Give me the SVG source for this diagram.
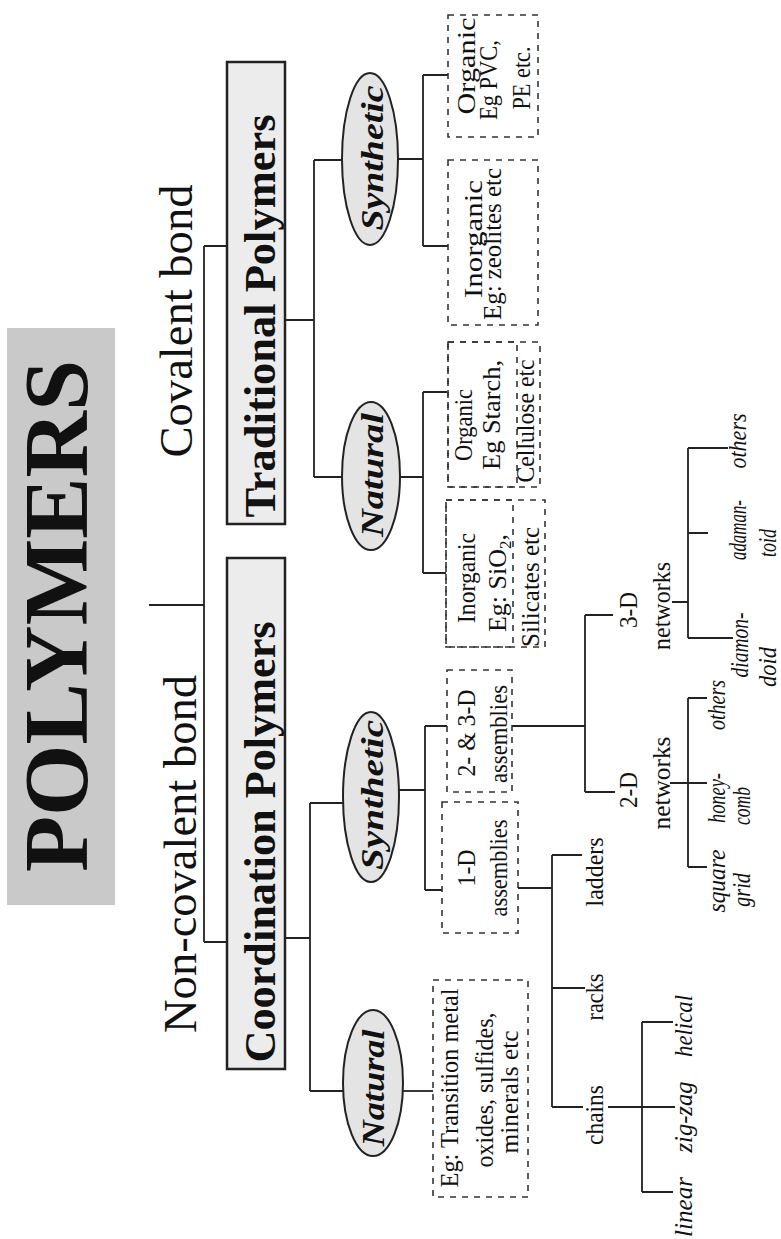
<svg xmlns="http://www.w3.org/2000/svg" width="781" height="1239" viewBox="0 0 781 1239">
<style>
.t{font-family:"Liberation Serif","Times New Roman",serif;fill:#111;text-anchor:middle}
.title{font-size:90px;font-weight:bold}
.big{font-size:47px}
.hdr{font-size:44px;font-weight:bold}
.ell{font-size:32px;font-weight:bold;font-style:italic}
.sm{font-size:26px}
.it{font-size:25px;font-style:italic}
.ln{stroke:#222;stroke-width:1.8;fill:none}
.dash{stroke:#333;stroke-width:1.6;fill:none;stroke-dasharray:6 6}
.hbox{fill:#ececec;stroke:#222;stroke-width:2.5}
.oval{fill:#e4e4e4;stroke:#222;stroke-width:2}
</style>
<rect width="781" height="1239" fill="#fff"/>

<g id="title">
<rect x="7" y="328" width="108" height="577" fill="#c9c9c9"/>
<text class="t title" transform="translate(87,616) rotate(-90)" textLength="512" lengthAdjust="spacingAndGlyphs">POLYMERS</text>
</g>
<g id="covalent"><text class="t big" transform="translate(192,321) rotate(-90)" textLength="273" lengthAdjust="spacingAndGlyphs">Covalent bond</text></g>
<g id="noncovalent"><text class="t big" transform="translate(196,854) rotate(-90)" textLength="358" lengthAdjust="spacingAndGlyphs">Non-covalent bond</text></g>

<g id="connectors">
<path class="ln" d="M149,605H204M204,246V942M204,246H227M204,942H227"/>
<path class="ln" d="M285,320H314M314,160V477M314,160H342M314,477H342"/>
<path class="ln" d="M398,159H423M423,75V246M423,75H448M423,246H448"/>
<path class="ln" d="M400,477H423M423,392V573M423,392H447M423,573H446"/>
<path class="ln" d="M285,938H310M310,803V1091M310,803H343M310,1091H343"/>
<path class="ln" d="M399,790H425M425,726V890M425,726H447M425,890H442"/>
<path class="ln" d="M403,1091H433"/>
<path class="ln" d="M518,888H552M552,855V1107M552,855H582M552,988H585M552,1107H583"/>
<path class="ln" d="M512,726H585M585,615V792M585,615H613M585,792H615"/>
<path class="ln" d="M608,1107H675M642,1022V1192M642,1022H673M642,1192H673"/>
<path class="ln" d="M670,783H707M688,698V867M688,698H707M688,867H707"/>
<path class="ln" d="M672,602H688M688,448V638M688,448H728M688,533H708M688,638H733"/>
</g>

<g id="traditional">
<rect class="hbox" x="227" y="62" width="58" height="462"/>
<text class="t hdr" transform="translate(275,316) rotate(-90)" textLength="403" lengthAdjust="spacingAndGlyphs">Traditional Polymers</text>
</g>
<g id="coordination">
<rect class="hbox" x="227" y="558" width="58" height="511"/>
<text class="t hdr" transform="translate(275,842) rotate(-90)" textLength="441" lengthAdjust="spacingAndGlyphs">Coordination Polymers</text>
</g>

<g id="trad-synthetic">
<ellipse class="oval" cx="370" cy="159" rx="28" ry="86"/>
<text class="t ell" transform="translate(383,158) rotate(-90)" textLength="145" lengthAdjust="spacingAndGlyphs">Synthetic</text>
</g>
<g id="trad-natural">
<ellipse class="oval" cx="371" cy="476" rx="29" ry="74"/>
<text class="t ell" transform="translate(383,475) rotate(-90)" textLength="124" lengthAdjust="spacingAndGlyphs">Natural</text>
</g>
<g id="coord-synthetic">
<ellipse class="oval" cx="371" cy="797" rx="28" ry="85"/>
<text class="t ell" transform="translate(383,795) rotate(-90)" textLength="150" lengthAdjust="spacingAndGlyphs">Synthetic</text>
</g>
<g id="coord-natural">
<ellipse class="oval" cx="373" cy="1083" rx="30" ry="73"/>
<text class="t ell" transform="translate(384,1088) rotate(-90)" textLength="117" lengthAdjust="spacingAndGlyphs">Natural</text>
</g>

<g id="trad-syn-organic">
<rect class="dash" x="448" y="15" width="90" height="122"/>
<text class="t sm" transform="translate(475,66) rotate(-90)" textLength="97" lengthAdjust="spacingAndGlyphs">Organic</text>
<text class="t sm" transform="translate(497,80) rotate(-90)" textLength="80" lengthAdjust="spacingAndGlyphs">Eg PVC,</text>
<text class="t sm" transform="translate(530,78) rotate(-90)" textLength="63" lengthAdjust="spacingAndGlyphs">PE etc.</text>
</g>
<g id="trad-syn-inorganic">
<rect class="dash" x="448" y="160" width="90" height="165"/>
<text class="t sm" transform="translate(482,239) rotate(-90)" textLength="118" lengthAdjust="spacingAndGlyphs">Inorganic</text>
<text class="t sm" transform="translate(501,244) rotate(-90)" textLength="152" lengthAdjust="spacingAndGlyphs">Eg: zeolites etc</text>
</g>
<g id="trad-nat-organic">
<rect class="dash" x="448" y="342" width="92" height="145"/>
<rect class="dash" x="448" y="342" width="69" height="145"/>
<text class="t sm" transform="translate(472,425) rotate(-90)" textLength="72" lengthAdjust="spacingAndGlyphs">Organic</text>
<text class="t sm" transform="translate(500,415) rotate(-90)" textLength="110" lengthAdjust="spacingAndGlyphs">Eg Starch,</text>
<text class="t sm" transform="translate(534,421) rotate(-90)" textLength="123" lengthAdjust="spacingAndGlyphs">Cellulose etc</text>
</g>
<g id="trad-nat-inorganic">
<rect class="dash" x="446" y="500" width="99" height="147"/>
<rect class="dash" x="446" y="500" width="67" height="147"/>
<text class="t sm" transform="translate(475,578) rotate(-90)" textLength="90" lengthAdjust="spacingAndGlyphs">Inorganic</text>
<text class="t sm" transform="translate(506,583) rotate(-90)">Eg: SiO<tspan font-size="17" dy="5">2</tspan><tspan dy="-5">,</tspan></text>
<text class="t sm" transform="translate(539,587) rotate(-90)" textLength="120" lengthAdjust="spacingAndGlyphs">Silicates etc</text>
</g>

<g id="assemblies-23d">
<rect class="dash" x="447" y="670" width="65" height="122"/>
<text class="t sm" transform="translate(475,733) rotate(-90)" textLength="87" lengthAdjust="spacingAndGlyphs">2- &amp; 3-D</text>
<text class="t sm" transform="translate(507,734) rotate(-90)" textLength="98" lengthAdjust="spacingAndGlyphs">assemblies</text>
</g>
<g id="assemblies-1d">
<rect class="dash" x="442" y="802" width="76" height="131"/>
<text class="t sm" transform="translate(475,868) rotate(-90)" textLength="37" lengthAdjust="spacingAndGlyphs">1-D</text>
<text class="t sm" transform="translate(507,868) rotate(-90)" textLength="97" lengthAdjust="spacingAndGlyphs">assemblies</text>
</g>
<g id="coord-nat-box">
<rect class="dash" x="433" y="980" width="95" height="217"/>
<text class="t sm" transform="translate(458,1088) rotate(-90)" textLength="199" lengthAdjust="spacingAndGlyphs">Eg: Transition metal</text>
<text class="t sm" transform="translate(493,1090) rotate(-90)" textLength="155" lengthAdjust="spacingAndGlyphs">oxides, sulfides,</text>
<text class="t sm" transform="translate(518,1092) rotate(-90)" textLength="123" lengthAdjust="spacingAndGlyphs">minerals etc</text>
</g>

<g id="ladders"><text class="t sm" transform="translate(603,872) rotate(-90)" textLength="69" lengthAdjust="spacingAndGlyphs">ladders</text></g>
<g id="racks"><text class="t sm" transform="translate(603,997) rotate(-90)" textLength="47" lengthAdjust="spacingAndGlyphs">racks</text></g>
<g id="chains"><text class="t sm" transform="translate(603,1115) rotate(-90)" textLength="60" lengthAdjust="spacingAndGlyphs">chains</text></g>
<g id="net2d">
<text class="t sm" transform="translate(637,790) rotate(-90)" textLength="36" lengthAdjust="spacingAndGlyphs">2-D</text>
<text class="t sm" transform="translate(670,783) rotate(-90)" textLength="93" lengthAdjust="spacingAndGlyphs">networks</text>
</g>
<g id="net3d">
<text class="t sm" transform="translate(637,610) rotate(-90)" textLength="36" lengthAdjust="spacingAndGlyphs">3-D</text>
<text class="t sm" transform="translate(670,606) rotate(-90)" textLength="88" lengthAdjust="spacingAndGlyphs">networks</text>
</g>

<g id="linear"><text class="t it" transform="translate(692,1207) rotate(-90)" textLength="60" lengthAdjust="spacingAndGlyphs">linear</text></g>
<g id="zigzag"><text class="t it" transform="translate(692,1117) rotate(-90)" textLength="71" lengthAdjust="spacingAndGlyphs">zig-zag</text></g>
<g id="helical"><text class="t it" transform="translate(692,1026) rotate(-90)" textLength="62" lengthAdjust="spacingAndGlyphs">helical</text></g>

<g id="square-grid">
<text class="t it" transform="translate(725,881) rotate(-90)" textLength="63" lengthAdjust="spacingAndGlyphs">square</text>
<text class="t it" transform="translate(750,890) rotate(-90)" textLength="34" lengthAdjust="spacingAndGlyphs">grid</text>
</g>
<g id="honeycomb">
<text class="t it" transform="translate(725,798) rotate(-90)" textLength="50" lengthAdjust="spacingAndGlyphs">honey-</text>
<text class="t it" transform="translate(750,806) rotate(-90)" textLength="38" lengthAdjust="spacingAndGlyphs">comb</text>
</g>
<g id="others2d"><text class="t it" transform="translate(725,705) rotate(-90)" textLength="50" lengthAdjust="spacingAndGlyphs">others</text></g>
<g id="others3d"><text class="t it" transform="translate(746,441) rotate(-90)" textLength="55" lengthAdjust="spacingAndGlyphs">others</text></g>
<g id="adamantoid">
<text class="t it" transform="translate(746,530) rotate(-90)" textLength="60" lengthAdjust="spacingAndGlyphs">adaman-</text>
<text class="t it" transform="translate(776,543) rotate(-90)" textLength="28" lengthAdjust="spacingAndGlyphs">toid</text>
</g>
<g id="diamondoid">
<text class="t it" transform="translate(748,645) rotate(-90)" textLength="65" lengthAdjust="spacingAndGlyphs">diamon-</text>
<text class="t it" transform="translate(776,667) rotate(-90)" textLength="40" lengthAdjust="spacingAndGlyphs">doid</text>
</g>
</svg>
